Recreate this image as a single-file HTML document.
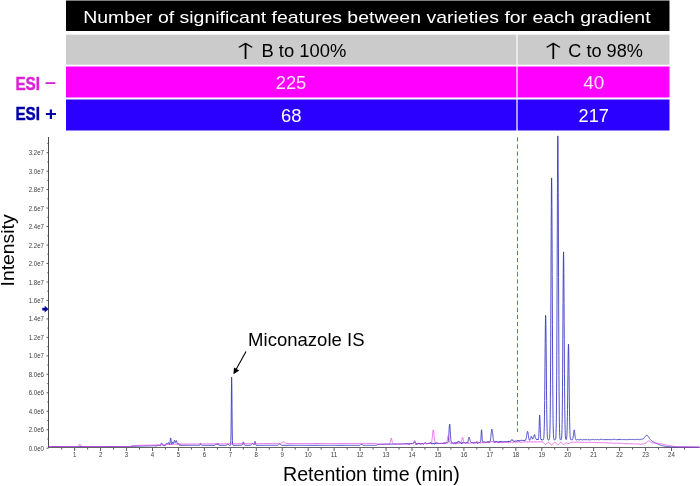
<!DOCTYPE html>
<html lang="en">
<head>
<meta charset="utf-8">
<title>Number of significant features between varieties for each gradient</title>
<style>
html,body{margin:0;padding:0;background:#fff;}
body{width:700px;height:486px;overflow:hidden;}
svg{display:block;}
text{font-family:"Liberation Sans","DejaVu Sans",sans-serif;}
</style>
</head>
<body>
<svg width="700" height="486" viewBox="0 0 700 486">
<rect x="0" y="0" width="700" height="486" fill="#ffffff"/>
<!-- table -->
<rect x="66" y="0.5" width="603.5" height="30.5" fill="#000000"/>
<rect x="66" y="34.7" width="603.5" height="30" fill="#cbcbcb"/>
<rect x="66" y="66.5" width="603.5" height="31" fill="#ff00ff"/>
<rect x="66" y="99.5" width="603.5" height="31" fill="#2c00ff"/>
<rect x="516.4" y="32" width="1.2" height="99" fill="#ffffff"/>
<text x="83.2" y="22.9" font-size="17" fill="#ffffff" textLength="567.4" lengthAdjust="spacingAndGlyphs">Number of significant features between varieties for each gradient</text>
<text transform="translate(245.9 58.8) scale(1.5 0.92)" x="-10.5" y="0" font-size="24" font-weight="200" style="font-family:'DejaVu Sans',sans-serif">↑</text>
<text x="261.5" y="56.6" font-size="18" fill="#000000" textLength="84.8" lengthAdjust="spacingAndGlyphs">B to 100%</text>
<text transform="translate(553.7 58.8) scale(1.5 0.92)" x="-10.5" y="0" font-size="24" font-weight="200" style="font-family:'DejaVu Sans',sans-serif">↑</text>
<text x="568.3" y="56.6" font-size="18" fill="#000000" textLength="74.6" lengthAdjust="spacingAndGlyphs">C to 98%</text>
<text x="275.7" y="89.2" font-size="18" fill="#ffe6ff" textLength="30.6" lengthAdjust="spacingAndGlyphs">225</text>
<text x="583.2" y="88.6" font-size="18" fill="#ffe6ff" textLength="21.1" lengthAdjust="spacingAndGlyphs">40</text>
<text x="280.9" y="122" font-size="18" fill="#ffffff" textLength="20.5" lengthAdjust="spacingAndGlyphs">68</text>
<text x="578.6" y="121.8" font-size="18" fill="#ffffff" textLength="30.3" lengthAdjust="spacingAndGlyphs">217</text>
<text x="15.4" y="89.5" font-size="17.8" font-weight="bold" fill="#dd22d6" stroke="#dd22d6" stroke-width="0.45" textLength="24.6" lengthAdjust="spacingAndGlyphs">ESI</text><text x="45.1" y="88" font-size="17.8" font-weight="bold" fill="#dd22d6" textLength="10.9" lengthAdjust="spacingAndGlyphs">–</text>
<text x="15.4" y="119.5" font-size="17.8" font-weight="bold" fill="#0000a8" stroke="#0000a8" stroke-width="0.45" textLength="24.6" lengthAdjust="spacingAndGlyphs">ESI</text><text x="44.9" y="119.8" font-size="17.8" font-weight="bold" fill="#0000a8" textLength="11.8" lengthAdjust="spacingAndGlyphs">+</text>
<!-- chart -->
<line x1="48.5" y1="137" x2="48.5" y2="448" stroke="#4a4a4a" stroke-width="1"/>
<line x1="48" y1="447.5" x2="699.5" y2="447.5" stroke="#666666" stroke-width="1"/>
<path d="M46.5 448.20H48.5M47.3 438.96H48.5M46.5 429.73H48.5M47.3 420.50H48.5M46.5 411.26H48.5M47.3 402.02H48.5M46.5 392.79H48.5M47.3 383.56H48.5M46.5 374.32H48.5M47.3 365.08H48.5M46.5 355.85H48.5M47.3 346.62H48.5M46.5 337.38H48.5M47.3 328.14H48.5M46.5 318.91H48.5M47.3 309.68H48.5M46.5 300.44H48.5M47.3 291.20H48.5M46.5 281.97H48.5M47.3 272.74H48.5M46.5 263.50H48.5M47.3 254.26H48.5M46.5 245.03H48.5M47.3 235.79H48.5M46.5 226.56H48.5M47.3 217.32H48.5M46.5 208.09H48.5M47.3 198.85H48.5M46.5 189.62H48.5M47.3 180.38H48.5M46.5 171.15H48.5M47.3 161.92H48.5M46.5 152.68H48.5M47.3 143.44H48.5" stroke="#4a4a4a" stroke-width="0.9" fill="none"/>
<path d="M61.68 448V449.6M74.65 448V451M87.62 448V449.6M100.60 448V451M113.58 448V449.6M126.55 448V451M139.53 448V449.6M152.50 448V451M165.47 448V449.6M178.45 448V451M191.43 448V449.6M204.40 448V451M217.38 448V449.6M230.35 448V451M243.32 448V449.6M256.30 448V451M269.27 448V449.6M282.25 448V451M295.23 448V449.6M308.20 448V451M321.17 448V449.6M334.15 448V451M347.12 448V449.6M360.10 448V451M373.07 448V449.6M386.05 448V451M399.02 448V449.6M412.00 448V451M424.97 448V449.6M437.95 448V451M450.92 448V449.6M463.90 448V451M476.88 448V449.6M489.85 448V451M502.82 448V449.6M515.80 448V451M528.77 448V449.6M541.75 448V451M554.73 448V449.6M567.70 448V451M580.68 448V449.6M593.65 448V451M606.62 448V449.6M619.60 448V451M632.58 448V449.6M645.55 448V451M658.52 448V449.6M671.50 448V451M684.48 448V449.6" stroke="#4a4a4a" stroke-width="0.9" fill="none"/>
<g font-family="'Liberation Sans', 'DejaVu Sans', sans-serif" font-size="7" fill="#3c3c3c"><text x="44" y="450.7" text-anchor="end" textLength="15.3" lengthAdjust="spacingAndGlyphs">0.0e0</text><text x="44" y="432.2" text-anchor="end" textLength="15.3" lengthAdjust="spacingAndGlyphs">2.0e6</text><text x="44" y="413.8" text-anchor="end" textLength="15.3" lengthAdjust="spacingAndGlyphs">4.0e6</text><text x="44" y="395.3" text-anchor="end" textLength="15.3" lengthAdjust="spacingAndGlyphs">6.0e6</text><text x="44" y="376.8" text-anchor="end" textLength="15.3" lengthAdjust="spacingAndGlyphs">8.0e6</text><text x="44" y="358.4" text-anchor="end" textLength="15.3" lengthAdjust="spacingAndGlyphs">1.0e7</text><text x="44" y="339.9" text-anchor="end" textLength="15.3" lengthAdjust="spacingAndGlyphs">1.2e7</text><text x="44" y="321.4" text-anchor="end" textLength="15.3" lengthAdjust="spacingAndGlyphs">1.4e7</text><text x="44" y="302.9" text-anchor="end" textLength="15.3" lengthAdjust="spacingAndGlyphs">1.6e7</text><text x="44" y="284.5" text-anchor="end" textLength="15.3" lengthAdjust="spacingAndGlyphs">1.8e7</text><text x="44" y="266.0" text-anchor="end" textLength="15.3" lengthAdjust="spacingAndGlyphs">2.0e7</text><text x="44" y="247.5" text-anchor="end" textLength="15.3" lengthAdjust="spacingAndGlyphs">2.2e7</text><text x="44" y="229.1" text-anchor="end" textLength="15.3" lengthAdjust="spacingAndGlyphs">2.4e7</text><text x="44" y="210.6" text-anchor="end" textLength="15.3" lengthAdjust="spacingAndGlyphs">2.6e7</text><text x="44" y="192.1" text-anchor="end" textLength="15.3" lengthAdjust="spacingAndGlyphs">2.8e7</text><text x="44" y="173.7" text-anchor="end" textLength="15.3" lengthAdjust="spacingAndGlyphs">3.0e7</text><text x="44" y="155.2" text-anchor="end" textLength="15.3" lengthAdjust="spacingAndGlyphs">3.2e7</text><text x="74.7" y="457.2" text-anchor="middle" textLength="3.4" lengthAdjust="spacingAndGlyphs">1</text><text x="100.6" y="457.2" text-anchor="middle" textLength="3.4" lengthAdjust="spacingAndGlyphs">2</text><text x="126.5" y="457.2" text-anchor="middle" textLength="3.4" lengthAdjust="spacingAndGlyphs">3</text><text x="152.5" y="457.2" text-anchor="middle" textLength="3.4" lengthAdjust="spacingAndGlyphs">4</text><text x="178.4" y="457.2" text-anchor="middle" textLength="3.4" lengthAdjust="spacingAndGlyphs">5</text><text x="204.4" y="457.2" text-anchor="middle" textLength="3.4" lengthAdjust="spacingAndGlyphs">6</text><text x="230.4" y="457.2" text-anchor="middle" textLength="3.4" lengthAdjust="spacingAndGlyphs">7</text><text x="256.3" y="457.2" text-anchor="middle" textLength="3.4" lengthAdjust="spacingAndGlyphs">8</text><text x="282.2" y="457.2" text-anchor="middle" textLength="3.4" lengthAdjust="spacingAndGlyphs">9</text><text x="308.2" y="457.2" text-anchor="middle" textLength="6.8" lengthAdjust="spacingAndGlyphs">10</text><text x="334.1" y="457.2" text-anchor="middle" textLength="6.8" lengthAdjust="spacingAndGlyphs">11</text><text x="360.1" y="457.2" text-anchor="middle" textLength="6.8" lengthAdjust="spacingAndGlyphs">12</text><text x="386.0" y="457.2" text-anchor="middle" textLength="6.8" lengthAdjust="spacingAndGlyphs">13</text><text x="412.0" y="457.2" text-anchor="middle" textLength="6.8" lengthAdjust="spacingAndGlyphs">14</text><text x="437.9" y="457.2" text-anchor="middle" textLength="6.8" lengthAdjust="spacingAndGlyphs">15</text><text x="463.9" y="457.2" text-anchor="middle" textLength="6.8" lengthAdjust="spacingAndGlyphs">16</text><text x="489.8" y="457.2" text-anchor="middle" textLength="6.8" lengthAdjust="spacingAndGlyphs">17</text><text x="515.8" y="457.2" text-anchor="middle" textLength="6.8" lengthAdjust="spacingAndGlyphs">18</text><text x="541.8" y="457.2" text-anchor="middle" textLength="6.8" lengthAdjust="spacingAndGlyphs">19</text><text x="567.7" y="457.2" text-anchor="middle" textLength="6.8" lengthAdjust="spacingAndGlyphs">20</text><text x="593.6" y="457.2" text-anchor="middle" textLength="6.8" lengthAdjust="spacingAndGlyphs">21</text><text x="619.6" y="457.2" text-anchor="middle" textLength="6.8" lengthAdjust="spacingAndGlyphs">22</text><text x="645.6" y="457.2" text-anchor="middle" textLength="6.8" lengthAdjust="spacingAndGlyphs">23</text><text x="671.5" y="457.2" text-anchor="middle" textLength="6.8" lengthAdjust="spacingAndGlyphs">24</text></g>
<line x1="517.5" y1="137.3" x2="517.5" y2="432" stroke="#5577b0" stroke-width="1" stroke-dasharray="4.3 2.8"/>
<path d="M48.70 446.50 L49.74 446.50 L50.78 446.50 L51.81 446.50 L52.85 446.50 L53.89 446.50 L54.93 446.50 L55.97 446.50 L57.00 446.50 L58.04 446.50 L59.08 446.50 L60.12 446.50 L61.16 446.50 L62.19 446.50 L63.23 446.50 L64.27 446.50 L65.31 446.50 L66.35 446.50 L67.38 446.50 L68.42 446.50 L69.46 446.50 L70.50 446.50 L71.54 446.50 L72.57 446.50 L73.61 446.50 L74.65 446.50 L75.69 446.50 L76.73 446.50 L77.76 446.50 L78.80 446.50 L79.84 446.50 L80.88 446.50 L81.92 446.50 L82.95 446.50 L83.99 446.50 L85.03 446.50 L86.07 446.50 L87.11 446.50 L88.14 446.50 L89.18 446.50 L90.22 446.50 L91.26 446.50 L92.30 446.50 L93.33 446.50 L94.37 446.50 L95.41 446.50 L96.45 446.50 L97.49 446.50 L98.52 446.50 L99.56 446.50 L100.60 446.50 L101.64 446.50 L102.68 446.50 L103.71 446.50 L104.75 446.50 L105.79 446.50 L106.83 446.50 L107.87 446.50 L108.90 446.50 L109.94 446.50 L110.98 446.50 L112.02 446.50 L113.06 446.50 L114.09 446.50 L115.13 446.50 L116.17 446.50 L117.21 446.50 L118.25 446.50 L119.28 446.50 L120.32 446.50 L121.36 446.50 L122.40 446.50 L123.44 446.50 L124.47 446.50 L125.51 446.50 L126.55 446.50 L127.59 446.50 L128.63 446.50 L129.66 446.50 L130.70 446.50 L131.74 446.50 L132.47 446.42 L133.19 446.33 L133.92 446.25 L134.96 446.19 L136.00 446.16 L137.03 446.14 L138.07 446.12 L139.11 446.10 L140.15 446.08 L141.19 446.05 L142.22 446.03 L143.26 446.01 L144.30 445.99 L145.34 445.96 L146.38 445.94 L147.41 445.92 L148.45 445.90 L149.49 445.88 L150.53 445.85 L151.57 445.83 L152.60 445.81 L153.64 445.79 L154.68 445.76 L155.20 445.91 L155.41 446.03 L155.72 446.21 L155.93 446.08 L156.03 446.18 L156.13 446.34 L156.24 446.18 L156.34 445.97 L156.44 445.70 L156.55 445.91 L156.65 445.63 L156.86 445.38 L157.07 445.70 L157.17 445.58 L157.38 445.44 L157.48 445.63 L157.69 445.51 L158.00 445.60 L158.42 445.74 L158.52 445.63 L158.73 445.38 L158.83 445.27 L158.94 445.18 L159.14 445.35 L159.25 445.12 L159.35 445.36 L159.45 445.58 L159.56 445.73 L159.77 445.50 L160.08 445.65 L160.28 445.53 L160.49 445.69 L160.60 445.45 L160.70 444.99 L160.80 444.63 L160.91 444.27 L161.01 444.09 L161.12 443.79 L161.22 443.43 L161.32 443.32 L161.53 443.20 L161.63 443.09 L161.74 442.87 L161.84 443.05 L161.95 443.36 L162.05 443.56 L162.15 443.85 L162.26 444.34 L162.36 444.56 L162.46 444.95 L162.67 445.18 L162.78 445.40 L162.98 445.58 L163.19 445.76 L163.30 445.68 L163.40 445.58 L163.50 445.46 L163.61 445.61 L163.71 445.41 L163.92 445.61 L164.02 445.70 L164.13 445.80 L164.23 445.60 L164.44 445.71 L164.54 445.56 L164.64 445.47 L164.75 445.73 L165.06 445.50 L165.27 445.38 L165.37 445.01 L165.68 444.92 L165.79 444.50 L165.89 444.39 L165.99 444.16 L166.10 443.86 L166.20 443.63 L166.31 443.39 L166.51 443.25 L166.93 443.34 L167.24 443.55 L167.55 443.63 L167.65 443.76 L167.76 443.85 L167.86 443.72 L167.97 443.56 L168.07 443.40 L168.28 443.12 L168.38 442.75 L168.49 442.65 L168.59 442.51 L168.69 442.82 L168.90 443.18 L169.00 443.47 L169.11 443.73 L169.21 444.27 L169.32 444.48 L169.42 444.90 L169.52 445.00 L169.63 444.80 L169.73 444.60 L169.83 444.03 L169.94 443.41 L170.04 442.31 L170.15 441.31 L170.25 440.47 L170.35 439.57 L170.46 438.97 L170.56 438.28 L170.67 437.90 L170.87 438.63 L170.98 439.38 L171.08 440.15 L171.18 441.10 L171.29 442.34 L171.39 443.28 L171.50 443.74 L171.60 444.09 L171.70 444.34 L171.81 444.48 L171.91 444.35 L172.01 444.25 L172.12 443.79 L172.22 443.37 L172.33 443.03 L172.43 442.74 L172.53 442.26 L172.64 441.89 L172.74 441.97 L172.84 442.11 L172.95 442.20 L173.05 442.39 L173.16 442.87 L173.26 443.23 L173.36 443.50 L173.47 443.66 L173.68 443.41 L173.78 443.12 L173.88 442.68 L173.99 442.25 L174.09 441.77 L174.19 441.38 L174.30 441.07 L174.40 440.55 L174.51 440.36 L174.61 440.20 L174.71 440.40 L174.82 440.59 L174.92 440.92 L175.02 441.44 L175.13 441.91 L175.23 442.39 L175.34 442.54 L175.44 442.76 L175.75 442.43 L175.86 442.05 L175.96 441.67 L176.06 441.23 L176.17 440.95 L176.27 440.72 L176.37 440.61 L176.48 440.83 L176.58 440.99 L176.69 441.47 L176.79 441.88 L176.89 442.09 L177.00 442.60 L177.10 442.69 L177.20 443.11 L177.31 443.39 L177.41 443.75 L177.52 444.14 L177.83 444.34 L177.93 444.24 L178.14 443.97 L178.35 443.88 L178.45 443.68 L178.55 443.81 L178.66 443.57 L178.76 443.79 L178.87 443.98 L178.97 444.29 L179.07 444.41 L179.28 444.83 L179.38 444.74 L179.49 444.88 L179.59 445.06 L179.70 445.22 L179.80 445.47 L179.90 445.03 L180.01 445.18 L180.11 445.03 L180.21 444.87 L180.42 444.75 L180.53 444.98 L180.63 445.10 L180.84 445.21 L181.05 445.29 L182.08 445.30 L183.12 445.30 L184.16 445.30 L185.20 445.30 L186.24 445.30 L187.27 445.30 L188.31 445.30 L189.35 445.30 L190.39 445.30 L191.43 445.30 L192.46 445.30 L193.50 445.30 L194.54 445.30 L195.58 445.30 L196.62 445.30 L197.65 445.30 L198.69 445.30 L199.52 445.22 L199.73 445.03 L199.83 444.85 L199.94 444.62 L200.04 444.33 L200.14 444.01 L200.25 443.70 L200.35 443.45 L200.46 443.32 L200.66 443.45 L200.77 443.70 L200.87 444.01 L200.97 444.33 L201.08 444.62 L201.18 444.85 L201.29 445.03 L201.39 445.15 L201.60 445.26 L202.64 445.30 L203.67 445.30 L204.71 445.30 L205.75 445.30 L206.79 445.30 L207.83 445.30 L208.86 445.30 L209.90 445.30 L210.94 445.30 L211.98 445.30 L213.02 445.30 L214.05 445.30 L214.88 445.19 L215.09 445.05 L215.20 444.95 L215.30 444.81 L215.40 444.66 L215.51 444.48 L215.61 444.30 L215.71 444.13 L215.82 443.98 L215.92 443.87 L216.34 443.98 L216.44 444.12 L216.54 444.29 L216.65 444.47 L216.75 444.63 L216.86 444.76 L217.06 444.85 L217.27 444.64 L217.38 444.41 L217.48 444.13 L217.58 443.83 L217.69 443.55 L217.79 443.36 L218.10 443.56 L218.21 443.85 L218.31 444.17 L218.41 444.48 L218.52 444.74 L218.62 444.95 L218.72 445.09 L218.83 445.19 L219.04 445.27 L220.07 445.30 L221.11 445.30 L222.15 445.30 L223.19 445.30 L224.23 445.30 L225.26 445.30 L226.30 445.27 L226.61 445.17 L226.82 445.00 L226.92 444.88 L227.03 444.74 L227.13 444.57 L227.24 444.39 L227.34 444.21 L227.44 444.05 L227.55 443.92 L227.65 443.83 L227.96 443.92 L228.07 444.05 L228.17 444.21 L228.27 444.39 L228.38 444.57 L228.48 444.74 L228.59 444.88 L228.69 445.00 L228.79 445.10 L229.00 445.22 L229.62 445.30 L230.45 445.17 L230.56 444.93 L230.66 444.34 L230.77 443.04 L230.87 440.49 L230.97 435.96 L231.08 428.82 L231.18 418.84 L231.28 406.66 L231.39 393.97 L231.49 383.27 L231.60 377.11 L231.80 383.27 L231.91 393.97 L232.01 406.66 L232.11 418.84 L232.22 428.82 L232.32 435.96 L232.43 440.49 L232.53 443.04 L232.63 444.34 L232.74 444.93 L232.84 445.17 L232.94 445.26 L233.98 445.30 L235.02 445.30 L236.06 445.30 L237.10 445.30 L238.13 445.30 L239.17 445.30 L240.21 445.30 L241.25 445.30 L241.98 445.18 L242.18 444.99 L242.29 444.83 L242.39 444.61 L242.49 444.33 L242.60 443.99 L242.70 443.60 L242.81 443.18 L242.91 442.76 L243.01 442.38 L243.12 442.07 L243.22 441.87 L243.53 442.07 L243.64 442.38 L243.74 442.76 L243.84 443.18 L243.95 443.60 L244.05 443.99 L244.16 444.33 L244.26 444.61 L244.36 444.83 L244.47 444.99 L244.57 445.10 L244.78 445.23 L245.82 445.30 L246.85 445.30 L247.89 445.30 L248.93 445.30 L249.97 445.29 L250.49 445.20 L250.69 445.12 L250.90 444.99 L251.01 444.90 L251.11 444.80 L251.21 444.68 L251.32 444.55 L251.42 444.40 L251.53 444.25 L251.63 444.09 L251.73 443.93 L251.84 443.77 L251.94 443.63 L252.04 443.51 L252.15 443.41 L252.36 443.30 L252.67 443.41 L252.77 443.51 L252.87 443.63 L252.98 443.77 L253.08 443.93 L253.19 444.09 L253.29 444.25 L253.39 444.40 L253.50 444.55 L253.60 444.68 L253.70 444.79 L253.81 444.87 L254.22 444.63 L254.33 444.31 L254.43 443.87 L254.54 443.31 L254.64 442.68 L254.74 442.07 L254.85 441.59 L254.95 441.33 L255.16 441.60 L255.26 442.09 L255.37 442.71 L255.47 443.35 L255.57 443.94 L255.68 444.41 L255.78 444.76 L255.88 444.99 L255.99 445.14 L256.09 445.22 L257.13 445.30 L258.17 445.30 L259.21 445.30 L260.24 445.30 L261.28 445.30 L262.32 445.30 L263.36 445.30 L264.40 445.30 L265.43 445.30 L266.47 445.30 L267.51 445.30 L268.55 445.30 L269.59 445.30 L270.62 445.30 L271.66 445.30 L272.70 445.30 L273.74 445.30 L274.78 445.30 L275.81 445.30 L276.85 445.30 L277.79 445.22 L278.10 445.10 L278.31 444.97 L278.41 444.88 L278.51 444.79 L278.62 444.68 L278.72 444.57 L278.82 444.45 L278.93 444.33 L279.03 444.21 L279.14 444.10 L279.24 444.00 L279.34 443.92 L279.55 443.81 L279.97 443.92 L280.07 444.00 L280.17 444.10 L280.28 444.21 L280.38 444.33 L280.49 444.45 L280.59 444.57 L280.69 444.68 L280.80 444.79 L280.90 444.88 L281.00 444.97 L281.21 445.10 L281.42 445.19 L281.83 445.27 L282.87 445.30 L283.91 445.30 L284.95 445.30 L285.99 445.30 L287.02 445.30 L288.06 445.30 L289.10 445.30 L290.14 445.30 L291.18 445.30 L292.21 445.30 L293.25 445.30 L294.29 445.30 L295.33 445.30 L296.37 445.30 L297.40 445.30 L298.44 445.30 L299.48 445.30 L300.52 445.30 L301.56 445.30 L302.59 445.30 L303.63 445.30 L304.67 445.30 L305.71 445.30 L306.75 445.30 L307.78 445.30 L308.82 445.30 L309.86 445.30 L310.90 445.30 L311.94 445.30 L312.97 445.30 L314.01 445.30 L315.05 445.30 L316.09 445.30 L317.13 445.30 L318.16 445.30 L319.20 445.30 L320.24 445.30 L321.28 445.30 L322.32 445.30 L323.35 445.30 L324.39 445.30 L325.43 445.30 L326.47 445.30 L327.51 445.30 L328.54 445.30 L329.58 445.30 L330.62 445.30 L331.66 445.30 L332.70 445.30 L333.73 445.30 L334.77 445.30 L335.81 445.30 L336.85 445.30 L337.89 445.30 L338.92 445.30 L339.96 445.30 L341.00 445.30 L342.04 445.30 L343.08 445.30 L344.11 445.30 L345.15 445.30 L346.19 445.30 L347.23 445.30 L348.27 445.30 L349.30 445.30 L350.34 445.30 L351.38 445.30 L352.42 445.30 L353.46 445.30 L354.49 445.30 L355.53 445.30 L356.57 445.30 L357.61 445.30 L358.65 445.30 L359.68 445.30 L360.20 445.18 L360.31 445.06 L360.41 444.94 L360.52 444.82 L360.62 444.70 L360.72 444.58 L360.83 444.46 L361.86 444.40 L362.28 444.49 L362.38 444.58 L362.49 444.67 L362.59 444.76 L362.69 444.85 L362.80 444.94 L362.90 445.03 L363.01 445.12 L363.11 445.21 L363.21 445.30 L364.25 445.30 L365.29 445.30 L366.33 445.30 L367.37 445.30 L368.40 445.30 L369.44 445.30 L370.48 445.30 L371.52 445.30 L372.56 445.30 L373.59 445.30 L374.63 445.30 L375.67 445.30 L376.40 445.17 L376.60 445.03 L376.81 444.90 L377.02 444.77 L377.23 444.63 L377.43 444.50 L377.64 444.37 L378.68 444.29 L379.72 444.27 L380.76 444.26 L381.79 444.24 L382.83 444.23 L383.87 444.21 L384.91 444.20 L385.95 444.18 L386.98 444.17 L388.02 444.16 L389.06 444.14 L390.10 444.13 L391.14 444.11 L392.17 444.10 L393.21 444.08 L394.25 444.07 L395.29 444.05 L396.33 444.04 L397.36 444.02 L398.40 444.01 L399.44 443.99 L400.48 443.98 L401.52 443.96 L402.55 443.95 L403.59 443.93 L404.63 443.91 L405.67 443.90 L406.71 443.88 L406.91 443.10 L407.12 443.43 L407.23 443.69 L407.33 444.10 L407.43 443.95 L407.54 444.04 L407.74 443.78 L407.85 443.61 L407.95 443.41 L408.06 443.69 L408.16 443.60 L408.26 443.87 L408.37 443.98 L408.57 444.14 L408.68 443.94 L408.99 443.84 L409.09 444.48 L409.20 444.24 L409.30 444.09 L409.40 444.32 L409.51 444.10 L409.72 443.26 L409.82 443.40 L410.34 443.69 L410.55 443.79 L410.65 443.52 L410.75 443.39 L410.86 443.16 L411.07 443.05 L411.27 443.23 L411.38 443.49 L411.48 443.87 L411.79 443.76 L412.10 443.58 L412.21 443.38 L412.42 443.74 L412.52 443.64 L412.62 443.73 L412.93 443.87 L413.04 443.66 L413.25 443.28 L413.56 442.91 L413.66 442.78 L413.76 442.67 L413.97 442.28 L414.28 442.11 L414.49 442.31 L414.70 442.40 L415.01 442.18 L415.11 441.79 L415.22 442.21 L415.53 442.63 L415.63 443.16 L415.74 443.66 L415.84 443.80 L415.94 444.14 L416.05 444.82 L416.15 444.65 L416.26 444.40 L416.36 444.26 L416.46 444.15 L416.57 443.86 L416.67 443.43 L416.77 443.30 L416.88 443.52 L416.98 443.71 L417.09 443.85 L417.19 444.07 L417.29 443.97 L417.40 444.31 L417.50 443.86 L417.61 443.74 L417.71 443.54 L417.81 443.70 L418.02 443.40 L418.12 444.02 L418.23 443.91 L418.44 443.48 L418.54 442.94 L418.64 443.29 L418.75 442.88 L418.85 443.13 L418.95 443.03 L419.06 443.27 L419.16 444.03 L419.47 443.86 L419.58 443.95 L419.68 443.66 L419.79 443.43 L419.99 443.24 L420.10 443.12 L420.20 443.39 L420.30 443.59 L420.41 443.85 L420.62 444.16 L420.72 444.37 L420.93 444.55 L421.03 444.27 L421.13 443.90 L421.24 443.60 L421.45 443.15 L421.55 443.03 L421.76 443.45 L421.86 443.73 L422.07 443.97 L422.28 443.68 L422.38 443.60 L422.48 443.51 L422.59 443.62 L422.69 443.50 L422.80 443.33 L422.90 443.77 L423.00 443.89 L423.11 444.06 L423.21 444.17 L423.42 444.48 L423.52 444.22 L423.63 443.94 L423.73 443.81 L423.83 443.60 L423.94 443.72 L424.04 443.52 L424.46 443.20 L424.56 443.11 L424.87 443.24 L424.97 443.06 L425.18 442.77 L425.29 442.57 L425.49 442.42 L425.70 442.68 L425.81 443.01 L425.91 443.22 L426.01 443.13 L426.32 443.32 L426.43 443.44 L426.64 443.57 L426.74 443.83 L426.84 443.96 L426.95 443.87 L427.05 443.76 L427.15 443.93 L427.26 444.05 L427.36 443.77 L427.47 443.64 L427.57 443.43 L427.67 443.56 L427.88 443.28 L427.99 443.53 L428.09 443.71 L428.19 443.90 L428.30 443.78 L428.50 443.63 L428.61 443.52 L428.71 443.17 L428.82 443.00 L428.92 443.22 L429.13 443.59 L429.23 443.46 L429.33 443.77 L429.44 443.61 L429.54 443.30 L429.75 443.21 L429.85 443.12 L429.96 442.72 L430.06 442.82 L430.17 442.73 L430.27 442.59 L430.37 442.70 L430.48 442.59 L430.58 443.05 L430.68 442.93 L430.79 443.42 L430.89 443.70 L431.10 443.86 L431.20 443.77 L431.31 444.00 L431.41 443.54 L431.51 443.26 L431.72 443.48 L431.83 443.74 L431.93 443.90 L432.03 443.98 L432.14 444.16 L432.24 444.02 L432.34 443.82 L432.45 443.62 L432.55 443.32 L432.66 443.54 L432.86 443.21 L432.97 443.41 L433.07 443.17 L433.18 443.54 L433.28 443.31 L433.38 443.20 L433.49 443.65 L433.59 443.49 L433.69 443.66 L433.90 443.53 L434.11 443.45 L434.21 443.93 L434.32 444.20 L434.42 444.00 L434.84 443.72 L434.94 443.33 L435.04 443.59 L435.15 443.96 L435.35 443.73 L435.46 443.54 L435.56 443.70 L435.67 443.30 L435.77 442.87 L435.98 442.98 L436.08 443.37 L436.19 443.09 L436.29 443.24 L436.39 443.15 L436.60 442.94 L436.70 442.68 L436.81 443.04 L436.91 442.91 L437.02 443.13 L437.12 443.02 L437.22 443.32 L437.53 443.20 L437.74 443.31 L437.85 443.18 L437.95 443.34 L438.16 443.60 L438.26 443.32 L438.37 443.47 L438.57 443.28 L438.78 443.43 L438.88 443.75 L438.99 443.36 L439.09 443.64 L439.20 443.89 L439.30 443.68 L439.40 443.53 L439.61 443.67 L439.71 443.54 L439.82 443.35 L439.92 443.58 L440.03 443.85 L440.13 443.58 L440.23 443.80 L440.44 443.65 L440.54 443.34 L440.65 443.18 L440.96 443.02 L441.06 443.23 L441.27 442.88 L441.38 443.04 L441.58 443.29 L441.79 443.56 L441.89 443.95 L442.10 443.68 L442.31 443.57 L442.41 443.10 L442.62 443.32 L442.72 443.17 L442.83 443.71 L442.93 443.58 L443.04 443.86 L443.14 443.75 L443.24 443.52 L443.45 443.26 L443.66 443.01 L443.76 442.87 L443.97 442.76 L444.07 442.41 L444.18 442.56 L444.28 443.20 L444.39 443.30 L444.49 443.76 L444.80 443.52 L444.90 443.19 L445.11 443.33 L445.22 443.07 L445.42 443.28 L445.63 443.12 L445.74 442.58 L445.84 442.83 L446.05 442.68 L446.25 442.94 L446.46 442.70 L446.67 442.91 L446.98 442.80 L447.08 443.03 L447.29 443.25 L447.50 443.02 L447.81 442.83 L447.91 442.54 L448.02 442.35 L448.12 442.08 L448.23 441.67 L448.33 440.82 L448.43 440.22 L448.54 438.88 L448.64 437.53 L448.75 435.66 L448.85 434.12 L448.95 432.29 L449.06 430.51 L449.16 428.84 L449.26 427.03 L449.37 425.93 L449.47 424.71 L449.58 424.37 L449.68 423.97 L449.78 424.18 L449.89 425.32 L449.99 426.69 L450.09 428.22 L450.20 429.94 L450.30 431.80 L450.41 433.84 L450.51 435.21 L450.61 436.81 L450.72 438.30 L450.82 439.38 L450.92 440.18 L451.03 440.72 L451.13 441.24 L451.24 441.47 L451.34 441.76 L451.44 441.66 L451.55 442.03 L451.65 442.27 L451.76 442.61 L451.86 442.69 L452.07 443.20 L452.17 443.04 L452.27 443.24 L452.38 442.97 L452.59 442.83 L452.69 442.68 L452.79 442.89 L453.10 443.03 L453.21 443.22 L453.31 443.37 L453.62 443.62 L453.83 443.51 L453.94 443.43 L454.04 443.73 L454.14 443.48 L454.25 443.15 L454.35 443.06 L454.45 443.15 L454.56 442.94 L454.66 442.66 L454.77 442.46 L454.87 442.81 L454.97 442.62 L455.18 442.91 L455.28 443.26 L455.39 443.68 L455.49 443.78 L455.60 443.95 L455.70 444.12 L455.80 443.65 L455.91 443.19 L456.12 442.98 L456.22 442.79 L456.32 442.37 L456.43 442.79 L456.53 443.12 L456.63 442.94 L456.84 443.07 L456.95 443.24 L457.05 443.03 L457.15 442.90 L457.26 442.54 L457.36 442.71 L457.57 442.49 L457.67 442.34 L457.78 441.80 L457.88 442.07 L457.98 441.69 L458.09 441.55 L458.19 441.43 L458.29 441.55 L458.40 441.79 L458.61 441.96 L458.81 441.82 L458.92 442.11 L459.13 441.78 L459.23 441.60 L459.33 441.80 L459.44 441.99 L459.85 442.52 L459.96 442.17 L460.06 442.27 L460.16 441.87 L460.27 442.16 L460.37 442.30 L460.47 442.17 L460.58 442.54 L460.79 442.70 L460.89 442.61 L460.99 442.78 L461.20 442.93 L461.31 443.04 L461.41 443.64 L461.51 443.45 L462.03 443.34 L462.14 443.77 L462.24 443.56 L462.34 443.43 L462.45 443.19 L462.55 442.97 L462.65 442.42 L462.76 442.15 L462.86 442.04 L462.97 442.12 L463.07 442.27 L463.17 442.45 L463.28 442.67 L463.48 442.99 L463.59 442.90 L463.69 443.10 L463.80 442.91 L463.90 443.00 L464.11 442.91 L464.32 442.70 L464.63 442.57 L464.83 442.78 L465.04 442.99 L465.56 443.21 L465.66 443.11 L465.77 443.01 L465.87 442.82 L465.98 442.90 L466.08 442.42 L466.18 442.22 L466.29 442.14 L466.50 442.53 L466.70 442.62 L466.91 442.72 L467.01 443.04 L467.12 442.77 L467.33 443.09 L467.53 442.88 L467.64 442.60 L467.74 442.85 L467.84 442.55 L467.95 441.93 L468.05 441.24 L468.16 440.92 L468.26 440.43 L468.36 439.55 L468.47 438.95 L468.57 438.47 L468.78 437.75 L468.88 437.31 L468.99 437.02 L469.19 437.24 L469.30 437.33 L469.40 437.80 L469.51 438.04 L469.61 438.58 L469.71 438.89 L469.82 439.54 L469.92 439.90 L470.02 440.18 L470.13 440.78 L470.23 441.18 L470.34 441.38 L470.54 441.63 L470.65 441.93 L471.06 442.37 L471.17 442.19 L471.27 442.39 L471.37 442.55 L471.48 442.74 L471.58 442.61 L471.69 442.48 L471.79 442.58 L471.89 442.82 L472.00 442.67 L472.10 442.49 L472.20 442.99 L472.31 442.76 L472.41 442.91 L472.52 442.72 L472.72 442.62 L472.83 442.43 L472.93 442.64 L473.14 442.38 L473.24 442.74 L473.35 443.10 L473.55 443.27 L473.86 442.97 L474.07 443.07 L474.18 442.72 L474.28 442.57 L474.49 442.68 L474.70 442.29 L474.90 442.46 L475.01 442.55 L475.32 442.70 L475.53 443.10 L475.63 442.94 L475.94 442.86 L476.04 442.54 L476.15 442.25 L476.25 442.50 L476.77 442.66 L476.88 442.37 L476.98 442.25 L477.08 442.56 L477.19 442.79 L477.29 442.96 L477.39 442.76 L477.50 443.02 L477.60 443.43 L477.71 443.16 L477.81 443.05 L478.02 443.42 L478.12 443.30 L478.22 443.06 L478.43 442.88 L478.64 442.66 L478.74 442.52 L478.85 442.32 L479.26 442.42 L479.37 442.59 L479.47 442.95 L479.57 442.69 L479.68 442.97 L479.78 442.75 L479.89 442.65 L479.99 442.49 L480.09 442.35 L480.20 442.44 L480.30 442.24 L480.40 442.01 L480.51 441.86 L480.61 441.26 L480.72 440.80 L480.82 439.85 L480.92 438.36 L481.03 436.93 L481.13 434.96 L481.23 433.23 L481.34 431.24 L481.44 430.14 L481.55 429.76 L481.65 430.34 L481.75 431.26 L481.86 432.90 L481.96 434.72 L482.06 436.62 L482.17 438.35 L482.27 439.58 L482.38 440.49 L482.48 441.23 L482.58 441.74 L482.69 442.08 L482.79 442.52 L483.10 442.65 L483.21 442.53 L483.31 442.39 L483.41 441.94 L483.52 442.02 L483.73 441.73 L483.93 441.92 L484.04 442.04 L484.14 441.92 L484.24 442.15 L484.45 442.04 L484.66 441.95 L484.87 441.86 L485.08 441.78 L485.28 442.08 L485.49 442.40 L485.59 442.57 L485.70 442.75 L485.91 442.31 L486.11 442.00 L486.22 442.10 L486.32 441.79 L486.53 442.17 L486.74 442.33 L486.84 442.23 L486.94 442.50 L487.05 442.38 L487.15 442.03 L487.25 441.86 L487.36 441.73 L487.46 442.09 L487.67 442.32 L487.77 442.42 L487.88 442.04 L488.09 441.76 L488.19 442.10 L488.29 441.67 L488.40 441.84 L488.50 442.21 L488.71 442.36 L488.81 441.93 L488.92 442.19 L489.33 442.03 L489.43 442.21 L489.54 441.93 L489.64 441.65 L489.75 441.85 L490.06 441.65 L490.16 441.36 L490.37 440.81 L490.47 440.06 L490.58 439.17 L490.68 438.17 L490.78 437.49 L490.89 436.40 L490.99 435.31 L491.10 434.21 L491.20 433.36 L491.30 432.64 L491.41 431.54 L491.51 430.45 L491.61 429.88 L491.72 429.52 L491.82 429.33 L491.93 429.15 L492.03 429.68 L492.13 430.00 L492.24 430.48 L492.34 431.06 L492.44 431.72 L492.55 432.67 L492.65 433.19 L492.76 434.20 L492.86 434.98 L492.96 436.00 L493.07 436.73 L493.17 437.48 L493.28 438.47 L493.38 439.23 L493.48 439.80 L493.59 440.12 L493.69 440.65 L493.79 441.22 L493.90 441.37 L494.11 442.30 L494.21 442.61 L494.31 442.71 L494.42 442.38 L494.52 442.16 L494.62 442.29 L494.73 441.84 L494.83 441.61 L495.04 441.74 L495.25 441.97 L495.35 441.65 L495.46 441.89 L495.56 441.74 L495.66 441.42 L495.77 441.52 L495.87 441.43 L496.08 441.23 L496.18 441.51 L496.29 441.68 L496.39 441.92 L496.49 441.51 L496.60 441.72 L496.80 441.53 L497.01 441.66 L497.22 441.83 L497.43 441.74 L497.53 441.93 L497.63 441.83 L497.74 442.09 L497.84 441.83 L497.95 442.13 L498.05 442.29 L498.15 442.06 L498.26 442.25 L498.36 442.38 L498.57 442.00 L498.67 442.12 L498.78 442.20 L498.88 441.86 L498.98 441.67 L499.09 441.45 L499.19 441.93 L499.30 441.83 L499.40 442.05 L499.61 442.28 L499.71 442.04 L499.81 441.63 L499.92 441.15 L500.02 441.04 L500.13 441.23 L500.23 441.09 L500.33 441.32 L500.54 441.77 L500.85 441.66 L500.96 441.99 L501.06 442.10 L501.16 442.27 L501.27 442.10 L501.37 441.82 L501.58 441.56 L501.68 441.33 L501.79 441.07 L501.89 441.23 L502.10 441.41 L502.20 441.50 L502.31 441.89 L502.41 442.02 L502.62 441.86 L502.82 442.13 L502.93 441.82 L503.03 441.92 L503.14 442.19 L503.45 442.02 L503.66 441.77 L503.76 441.49 L503.86 441.61 L504.17 441.50 L504.28 441.98 L504.49 442.11 L504.69 441.95 L504.90 441.71 L505.00 441.44 L505.11 441.65 L505.21 441.51 L505.42 441.60 L505.63 442.02 L505.73 441.73 L505.84 442.03 L505.94 442.22 L506.25 442.00 L506.46 441.78 L506.56 441.59 L506.67 441.47 L507.08 441.25 L507.18 441.56 L507.39 441.73 L507.50 441.83 L507.60 441.70 L507.70 441.82 L507.81 441.65 L507.91 441.83 L508.01 441.47 L508.12 441.20 L508.22 441.48 L508.33 441.31 L508.43 441.08 L508.64 441.22 L508.74 441.56 L508.85 441.09 L508.95 441.37 L509.05 441.65 L509.16 441.48 L509.36 441.39 L509.47 441.52 L509.57 441.72 L509.78 441.55 L510.09 441.75 L510.19 441.27 L510.30 441.14 L510.40 441.24 L510.51 441.10 L510.61 440.89 L510.71 440.71 L510.92 440.52 L511.13 440.35 L511.23 440.51 L511.34 440.41 L511.54 440.02 L511.86 439.72 L511.96 439.44 L512.06 439.33 L512.17 439.79 L512.37 439.90 L512.48 440.05 L512.58 440.24 L512.69 440.55 L512.79 440.39 L513.00 440.68 L513.21 441.08 L513.31 440.96 L513.41 441.07 L513.52 441.32 L513.62 441.19 L513.72 441.28 L513.83 441.18 L513.93 441.03 L514.04 441.17 L514.24 440.83 L514.35 440.92 L514.45 441.05 L514.55 441.62 L514.97 441.86 L515.07 441.70 L515.18 441.47 L515.38 441.20 L515.59 440.94 L515.70 440.74 L516.01 440.89 L516.11 441.09 L516.22 440.93 L516.32 441.03 L516.53 441.22 L516.63 441.33 L516.73 441.13 L516.94 441.23 L517.05 441.34 L517.15 441.19 L517.25 440.72 L517.36 440.85 L517.46 440.56 L517.56 440.74 L517.67 440.52 L517.77 440.62 L517.88 440.48 L518.08 440.64 L518.19 440.43 L518.29 440.57 L518.40 440.30 L518.50 440.89 L518.71 441.17 L518.91 440.96 L519.02 441.29 L519.12 440.69 L519.23 440.82 L519.43 440.97 L519.64 440.76 L519.74 441.09 L519.85 440.79 L520.06 440.70 L520.16 440.44 L520.26 440.36 L520.47 440.45 L520.89 440.58 L521.09 440.75 L521.20 440.51 L521.30 440.40 L521.51 440.22 L521.61 440.41 L521.72 440.20 L521.92 440.11 L522.03 440.20 L522.13 440.44 L522.34 440.66 L522.65 440.36 L522.75 440.20 L522.86 439.98 L523.07 440.13 L523.17 440.00 L523.27 440.25 L523.38 440.37 L523.79 440.60 L523.90 440.46 L524.10 440.37 L524.21 440.23 L524.31 440.67 L524.42 440.46 L524.52 440.82 L524.73 440.73 L524.83 440.95 L524.93 440.36 L525.14 440.08 L525.25 439.87 L525.35 440.16 L525.45 439.86 L525.56 440.02 L525.66 439.81 L525.76 439.65 L525.97 439.27 L526.08 438.91 L526.18 438.28 L526.28 438.05 L526.39 437.43 L526.49 436.57 L526.60 435.66 L526.70 434.97 L526.80 434.46 L526.91 433.67 L527.01 433.10 L527.11 432.88 L527.22 432.23 L527.32 431.93 L527.43 431.56 L527.53 431.32 L527.84 431.90 L527.94 432.23 L528.05 433.01 L528.15 433.92 L528.26 434.40 L528.36 435.40 L528.46 436.11 L528.57 437.09 L528.67 437.77 L528.77 438.12 L528.88 438.79 L528.98 438.99 L529.09 439.50 L529.19 439.71 L529.29 439.95 L529.40 440.10 L529.50 440.30 L529.61 440.42 L529.71 440.31 L529.81 440.03 L529.92 439.59 L530.02 439.72 L530.12 439.26 L530.23 439.13 L530.44 438.83 L530.54 438.65 L530.64 438.25 L530.75 437.91 L530.85 437.66 L530.95 436.91 L531.06 436.64 L531.16 436.55 L531.27 436.25 L531.37 436.60 L531.58 437.03 L531.68 437.28 L531.89 437.68 L531.99 437.47 L532.10 437.65 L532.20 437.85 L532.30 438.38 L532.41 438.66 L532.62 439.20 L532.72 439.02 L532.93 438.76 L533.03 438.37 L533.24 438.01 L533.45 437.68 L533.55 437.10 L533.76 436.62 L533.86 436.11 L533.97 435.80 L534.07 435.20 L534.17 435.34 L534.28 435.13 L534.38 434.84 L534.59 434.53 L534.69 434.76 L534.80 434.84 L534.90 435.20 L535.00 436.03 L535.11 436.47 L535.21 437.12 L535.31 437.53 L535.42 437.86 L535.52 438.06 L535.63 438.32 L535.73 438.46 L535.83 438.55 L535.94 438.68 L536.04 438.96 L536.14 439.19 L536.46 439.31 L536.56 439.48 L536.77 439.34 L536.98 439.79 L537.08 439.91 L537.18 439.60 L537.29 439.35 L537.39 439.66 L537.49 439.54 L537.60 439.25 L537.70 439.02 L537.81 439.34 L537.91 439.56 L538.01 439.11 L538.22 439.26 L538.32 439.45 L538.43 439.11 L538.53 438.34 L538.64 437.82 L538.74 436.43 L538.84 434.74 L538.95 432.40 L539.05 429.41 L539.16 426.43 L539.26 423.01 L539.36 419.79 L539.47 417.26 L539.57 415.45 L539.67 415.09 L539.78 415.79 L539.88 417.53 L539.99 420.30 L540.09 423.25 L540.19 426.47 L540.30 429.82 L540.40 432.36 L540.50 434.54 L540.61 436.60 L540.71 437.77 L540.82 438.63 L540.92 439.24 L541.02 439.72 L541.13 439.82 L541.23 439.59 L541.33 439.69 L541.44 439.86 L541.54 439.44 L541.75 439.95 L542.79 439.94 L543.20 439.84 L543.31 439.76 L543.41 439.61 L543.51 439.37 L543.62 438.99 L543.72 438.38 L543.83 437.47 L543.93 436.11 L544.03 434.17 L544.14 431.47 L544.24 427.82 L544.35 423.03 L544.45 416.94 L544.55 409.46 L544.66 400.57 L544.76 390.37 L544.86 379.10 L544.97 367.16 L545.07 355.07 L545.18 343.48 L545.28 333.08 L545.38 324.55 L545.49 318.49 L545.59 315.34 L545.80 318.49 L545.90 324.55 L546.01 333.08 L546.11 343.48 L546.21 355.07 L546.32 367.15 L546.42 379.09 L546.52 390.36 L546.63 400.56 L546.73 409.45 L546.84 416.93 L546.94 423.02 L547.04 427.80 L547.15 431.46 L547.25 434.16 L547.36 436.10 L547.46 437.45 L547.56 438.37 L547.67 438.97 L547.77 439.35 L547.87 439.59 L547.98 439.74 L548.08 439.82 L548.39 439.91 L549.12 439.76 L549.22 439.62 L549.33 439.39 L549.43 439.00 L549.53 438.36 L549.64 437.34 L549.74 435.78 L549.85 433.44 L549.95 430.03 L550.05 425.21 L550.16 418.60 L550.26 409.80 L550.37 398.44 L550.47 384.24 L550.57 367.07 L550.68 347.02 L550.78 324.43 L550.88 299.99 L550.99 274.65 L551.09 249.66 L551.20 226.43 L551.30 206.42 L551.40 190.99 L551.51 181.25 L551.61 177.91 L551.71 181.25 L551.82 190.99 L551.92 206.42 L552.03 226.43 L552.13 249.66 L552.23 274.65 L552.34 299.98 L552.44 324.42 L552.55 347.01 L552.65 367.06 L552.75 384.23 L552.86 398.43 L552.96 409.79 L553.06 418.59 L553.17 425.20 L553.27 430.02 L553.38 433.42 L553.48 435.76 L553.58 437.33 L553.69 438.34 L553.79 438.98 L553.89 439.37 L554.00 439.60 L554.10 439.74 L554.31 439.86 L555.35 439.71 L555.45 439.55 L555.56 439.28 L555.66 438.82 L555.76 438.08 L555.87 436.90 L555.97 435.09 L556.07 432.37 L556.18 428.42 L556.28 422.83 L556.39 415.16 L556.49 404.95 L556.59 391.77 L556.70 375.29 L556.80 355.37 L556.90 332.10 L557.01 305.89 L557.11 277.53 L557.22 248.13 L557.32 219.14 L557.42 192.19 L557.53 168.97 L557.63 151.06 L557.74 139.75 L557.84 135.89 L557.94 139.75 L558.05 151.06 L558.15 168.96 L558.25 192.18 L558.36 219.14 L558.46 248.13 L558.57 277.52 L558.67 305.88 L558.77 332.09 L558.88 355.36 L558.98 375.28 L559.08 391.76 L559.19 404.93 L559.29 415.15 L559.40 422.82 L559.50 428.40 L559.60 432.36 L559.71 435.07 L559.81 436.89 L559.91 438.06 L560.02 438.80 L560.12 439.26 L560.23 439.53 L560.33 439.68 L560.43 439.77 L561.16 439.66 L561.26 439.49 L561.37 439.21 L561.47 438.75 L561.58 438.02 L561.68 436.90 L561.78 435.22 L561.89 432.77 L561.99 429.32 L562.09 424.57 L562.20 418.26 L562.30 410.11 L562.41 399.92 L562.51 387.60 L562.61 373.20 L562.72 357.00 L562.82 339.46 L562.93 321.28 L563.03 303.35 L563.13 286.68 L563.24 272.32 L563.34 261.25 L563.44 254.25 L563.55 251.86 L563.65 254.25 L563.76 261.24 L563.86 272.32 L563.96 286.68 L564.07 303.34 L564.17 321.27 L564.27 339.45 L564.38 356.99 L564.48 373.20 L564.59 387.59 L564.69 399.91 L564.79 410.09 L564.90 418.24 L565.00 424.56 L565.11 429.30 L565.21 432.76 L565.31 435.20 L565.42 436.88 L565.52 438.00 L565.62 438.72 L565.73 439.18 L565.83 439.45 L565.94 439.59 L566.35 439.39 L566.45 439.10 L566.56 438.64 L566.66 437.94 L566.77 436.90 L566.87 435.41 L566.97 433.34 L567.08 430.53 L567.18 426.85 L567.28 422.18 L567.39 416.44 L567.49 409.61 L567.60 401.77 L567.70 393.12 L567.80 383.94 L567.91 374.66 L568.01 365.76 L568.12 357.77 L568.22 351.22 L568.32 346.57 L568.43 344.15 L568.63 346.57 L568.74 351.22 L568.84 357.77 L568.95 365.76 L569.05 374.66 L569.15 383.94 L569.26 393.11 L569.36 401.76 L569.46 409.60 L569.57 416.43 L569.67 422.17 L569.78 426.84 L569.88 430.52 L569.98 433.33 L570.09 435.40 L570.19 436.89 L570.30 437.93 L570.40 438.63 L570.50 439.09 L570.61 439.39 L570.71 439.57 L570.81 439.68 L571.02 439.79 L572.06 439.80 L572.37 439.68 L572.47 439.60 L572.58 439.47 L572.68 439.28 L572.79 439.03 L572.89 438.68 L572.99 438.23 L573.10 437.66 L573.20 436.97 L573.31 436.15 L573.41 435.24 L573.51 434.26 L573.62 433.25 L573.72 432.27 L573.82 431.38 L573.93 430.65 L574.03 430.13 L574.14 429.85 L574.34 430.12 L574.45 430.65 L574.55 431.38 L574.65 432.27 L574.76 433.24 L574.86 434.25 L574.97 435.23 L575.07 436.15 L575.17 436.96 L575.28 437.65 L575.38 438.22 L575.49 438.67 L575.59 438.85 L575.69 439.22 L575.80 439.48 L575.90 439.63 L576.11 439.90 L576.21 439.99 L577.15 439.81 L577.56 439.68 L578.39 439.81 L579.12 439.67 L579.33 439.75 L579.43 439.84 L579.95 439.75 L580.16 439.56 L580.26 439.39 L580.57 439.52 L580.68 439.43 L580.78 439.64 L581.09 439.73 L581.40 439.62 L581.51 439.73 L581.61 439.65 L581.82 439.88 L582.13 440.02 L582.34 440.12 L582.44 440.02 L582.85 439.86 L582.96 439.73 L583.06 439.65 L583.17 439.75 L583.27 439.54 L583.37 439.63 L583.58 439.73 L583.69 439.83 L583.79 439.68 L583.89 439.84 L584.31 439.70 L584.62 439.60 L584.72 439.69 L585.03 439.55 L585.66 439.68 L585.76 439.80 L586.28 439.71 L586.38 439.55 L586.80 439.71 L587.11 439.80 L587.53 440.04 L587.73 439.83 L587.84 439.71 L587.94 439.55 L588.15 439.35 L588.36 439.51 L588.46 439.63 L588.56 439.78 L589.39 439.88 L589.71 439.77 L590.02 439.67 L590.43 439.79 L590.95 439.71 L591.47 439.60 L591.78 439.52 L592.20 439.42 L592.51 439.31 L592.72 439.59 L593.34 439.40 L593.55 439.57 L593.86 439.73 L594.38 439.82 L594.69 439.73 L595.00 439.64 L595.31 439.54 L595.52 439.41 L595.73 439.51 L596.25 439.63 L596.45 439.83 L596.56 439.71 L597.08 439.56 L597.18 439.67 L597.39 439.57 L597.59 439.43 L598.32 439.66 L598.42 439.56 L598.53 439.65 L598.84 439.56 L599.15 439.72 L599.26 439.81 L599.36 439.69 L599.57 439.79 L599.67 439.70 L599.77 439.50 L600.60 439.39 L600.81 439.25 L601.02 439.37 L601.12 439.29 L601.23 439.44 L601.44 439.53 L601.85 439.29 L602.37 439.40 L602.47 439.49 L602.58 439.40 L602.68 439.49 L602.78 439.36 L603.10 439.50 L603.20 439.64 L603.30 439.53 L603.51 439.69 L603.72 439.50 L603.82 439.58 L603.93 439.72 L604.45 439.56 L605.07 439.71 L605.17 439.62 L606.21 439.61 L607.04 439.52 L607.14 439.43 L607.77 439.57 L607.97 439.44 L608.60 439.56 L608.70 439.68 L608.91 439.57 L609.12 439.68 L609.32 439.50 L609.53 439.64 L609.74 439.55 L610.05 439.72 L610.15 439.61 L610.26 439.45 L610.88 439.56 L610.98 439.79 L611.19 439.95 L611.61 439.69 L611.82 439.59 L612.13 439.46 L612.23 439.55 L612.44 439.45 L612.96 439.25 L613.06 439.33 L613.79 439.41 L613.89 439.57 L614.10 439.72 L614.31 439.52 L614.51 439.33 L614.72 439.22 L614.93 439.32 L615.34 439.44 L615.45 439.58 L615.66 439.48 L615.86 439.39 L616.38 439.50 L616.59 439.61 L616.90 439.72 L617.01 439.64 L617.11 439.54 L617.73 439.67 L617.94 439.50 L618.98 439.60 L620.02 439.48 L620.22 439.38 L620.95 439.29 L621.26 439.38 L621.47 439.56 L621.78 439.70 L622.09 439.53 L622.71 439.63 L622.82 439.49 L622.92 439.40 L623.23 439.51 L623.34 439.43 L623.44 439.54 L623.86 439.44 L624.48 439.58 L624.58 439.50 L625.10 439.41 L625.21 439.50 L625.72 439.60 L625.83 439.69 L626.35 439.84 L626.66 439.68 L626.87 439.46 L627.49 439.55 L627.59 439.37 L627.80 439.49 L627.90 439.66 L628.22 439.80 L628.42 439.70 L628.53 439.47 L629.36 439.35 L630.40 439.55 L630.50 439.38 L630.71 439.28 L630.81 439.51 L630.91 439.37 L631.12 439.50 L631.74 439.37 L631.85 439.26 L631.95 439.40 L632.47 439.49 L632.58 439.38 L632.78 439.48 L633.09 439.62 L633.41 439.46 L633.61 439.63 L633.72 439.50 L634.65 439.59 L635.27 439.51 L635.48 439.42 L635.69 439.54 L635.90 439.40 L636.00 439.53 L636.21 439.45 L636.52 439.64 L636.73 439.52 L637.04 439.41 L637.14 439.33 L637.25 439.22 L637.45 439.33 L637.87 439.52 L637.97 439.62 L638.08 439.75 L638.28 439.67 L638.60 439.59 L638.70 439.37 L639.32 439.54 L639.43 439.70 L639.84 439.62 L640.05 439.50 L640.36 439.35 L640.67 439.48 L641.19 439.39 L641.61 439.31 L641.71 439.45 L641.81 439.36 L641.92 439.26 L642.02 439.36 L642.33 439.18 L642.64 439.02 L642.75 438.90 L643.06 439.06 L643.16 438.90 L643.37 438.79 L643.68 438.38 L643.89 438.24 L644.10 438.00 L644.20 437.79 L644.41 437.67 L644.62 437.38 L644.72 437.25 L644.82 437.10 L644.93 437.01 L645.03 436.82 L645.13 436.68 L645.34 436.52 L645.45 436.37 L645.55 436.09 L645.65 435.96 L645.76 435.85 L645.86 435.74 L645.97 435.64 L646.07 435.55 L646.28 435.41 L646.48 435.31 L647.31 435.46 L647.52 435.63 L647.63 435.73 L647.73 435.84 L647.83 435.96 L647.94 436.09 L648.04 436.23 L648.15 436.37 L648.25 436.52 L648.35 436.68 L648.46 436.84 L648.56 437.00 L648.66 437.17 L648.77 437.33 L648.87 437.50 L648.98 437.67 L649.08 437.83 L649.18 437.99 L649.29 438.15 L649.39 438.31 L649.49 438.46 L649.60 438.61 L649.70 438.75 L649.81 438.89 L649.91 439.02 L650.01 439.14 L650.12 439.26 L650.22 439.37 L650.32 439.48 L650.43 439.58 L650.53 439.68 L650.64 439.77 L650.74 439.85 L650.84 439.97 L650.95 440.09 L651.05 440.20 L651.16 440.31 L651.26 440.41 L651.36 440.51 L651.47 440.60 L651.57 440.70 L651.67 440.78 L651.78 440.87 L651.88 440.95 L652.09 441.10 L652.30 441.24 L652.50 441.38 L652.71 441.51 L652.92 441.64 L653.13 441.76 L653.34 441.88 L653.54 442.00 L653.75 442.12 L653.96 442.23 L654.17 442.34 L654.37 442.46 L654.58 442.57 L654.79 442.67 L655.00 442.77 L655.20 442.86 L655.41 442.96 L655.62 443.06 L655.83 443.15 L656.03 443.25 L656.24 443.34 L656.45 443.44 L656.66 443.54 L656.86 443.63 L657.07 443.73 L657.28 443.82 L657.49 443.92 L657.69 444.02 L657.90 444.11 L658.11 444.21 L658.32 444.30 L658.52 444.40 L658.73 444.50 L658.94 444.59 L659.15 444.69 L659.36 444.78 L659.56 444.88 L659.77 444.98 L660.08 445.06 L660.50 445.17 L660.91 445.27 L661.33 445.37 L661.74 445.47 L662.16 445.58 L662.57 445.68 L662.99 445.78 L663.40 445.88 L663.82 445.99 L664.23 446.09 L664.65 446.19 L665.06 446.29 L665.48 446.40 L665.89 446.50 L666.31 446.60 L667.35 446.64 L668.39 446.68 L669.42 446.72 L670.46 446.76 L671.50 446.80 L672.54 446.84 L673.58 446.88 L674.61 446.92 L675.65 446.96 L676.69 447.00 L677.73 447.00 L678.77 447.01 L679.80 447.01 L680.84 447.02 L681.88 447.02 L682.92 447.03 L683.96 447.03 L684.99 447.04 L686.03 447.04 L687.07 447.04 L688.11 447.05 L689.15 447.05 L690.18 447.06 L691.22 447.06 L692.26 447.07 L693.30 447.07 L694.34 447.08 L695.37 447.08 L696.41 447.08 L697.45 447.09 L698.49 447.09 L699.50 447.10 L699.50 447.10" fill="none" stroke="#3030c0" stroke-width="0.85" stroke-linejoin="round"/>
<path d="M48.70 446.50 L49.74 446.50 L50.78 446.50 L51.81 446.50 L52.85 446.50 L53.89 446.50 L54.93 446.50 L55.97 446.50 L57.00 446.50 L58.04 446.50 L59.08 446.50 L60.12 446.50 L61.16 446.50 L62.19 446.50 L63.23 446.50 L64.27 446.50 L65.31 446.50 L66.35 446.50 L67.38 446.50 L68.42 446.50 L69.46 446.50 L70.50 446.50 L71.54 446.50 L72.57 446.50 L73.61 446.50 L74.65 446.50 L75.69 446.50 L76.73 446.50 L77.76 446.44 L78.08 446.33 L78.28 446.20 L78.39 446.11 L78.49 446.01 L78.59 445.89 L78.70 445.75 L78.80 445.60 L78.91 445.43 L79.01 445.25 L79.11 445.08 L79.22 444.90 L79.32 444.74 L79.42 444.59 L79.53 444.47 L79.63 444.38 L80.15 444.47 L80.26 444.59 L80.36 444.74 L80.46 444.90 L80.57 445.08 L80.67 445.25 L80.77 445.43 L80.88 445.60 L80.98 445.75 L81.09 445.89 L81.19 446.01 L81.29 446.11 L81.40 446.20 L81.60 446.33 L81.92 446.44 L82.95 446.50 L83.99 446.50 L85.03 446.50 L86.07 446.50 L87.11 446.50 L88.14 446.50 L89.18 446.50 L90.22 446.50 L91.26 446.50 L92.30 446.50 L93.33 446.50 L94.37 446.50 L95.41 446.50 L96.45 446.50 L97.49 446.50 L98.52 446.50 L99.56 446.50 L100.60 446.50 L101.64 446.50 L102.68 446.50 L103.71 446.50 L104.75 446.50 L105.79 446.50 L106.83 446.50 L107.87 446.50 L108.90 446.50 L109.94 446.50 L110.98 446.50 L112.02 446.50 L113.06 446.50 L114.09 446.50 L115.13 446.50 L116.17 446.50 L117.21 446.50 L118.25 446.50 L119.28 446.50 L120.32 446.50 L121.36 446.50 L122.40 446.50 L123.44 446.50 L124.47 446.50 L125.51 446.50 L126.55 446.50 L127.59 446.50 L128.63 446.50 L129.66 446.50 L130.60 446.39 L130.81 446.25 L131.01 446.10 L131.22 445.96 L131.43 445.82 L131.64 445.67 L132.05 445.59 L133.09 445.56 L134.13 445.54 L135.17 445.51 L136.20 445.48 L137.24 445.45 L138.28 445.42 L139.32 445.40 L140.36 445.37 L141.39 445.34 L142.43 445.31 L143.47 445.28 L144.51 445.26 L145.55 445.23 L146.58 445.20 L147.62 445.17 L148.66 445.14 L149.70 445.12 L150.74 445.09 L151.77 445.06 L152.81 445.03 L153.85 445.00 L154.89 444.98 L155.93 444.95 L156.96 444.92 L158.00 444.89 L159.04 444.85 L160.08 444.81 L161.12 444.77 L162.15 444.73 L163.19 444.69 L164.23 444.65 L165.27 444.61 L166.31 444.57 L167.34 444.53 L168.38 444.49 L169.42 444.45 L170.46 444.41 L171.50 444.37 L172.53 444.33 L173.57 444.29 L174.61 444.25 L175.65 444.21 L176.69 444.17 L177.72 444.13 L178.76 444.09 L179.80 444.05 L180.84 444.01 L181.88 444.00 L182.91 443.99 L183.95 443.98 L184.99 443.98 L186.03 443.97 L187.07 443.97 L188.10 443.96 L189.14 443.96 L190.18 443.95 L191.22 443.95 L192.26 443.94 L193.29 443.93 L194.33 443.93 L195.37 443.92 L196.41 443.92 L197.45 443.91 L198.48 443.91 L199.52 443.90 L200.56 443.90 L201.60 443.89 L202.64 443.89 L203.67 443.88 L204.71 443.87 L205.75 443.87 L206.79 443.86 L207.83 443.86 L208.86 443.85 L209.90 443.85 L210.94 443.84 L211.98 443.84 L213.02 443.83 L214.05 443.82 L215.09 443.82 L216.13 443.81 L217.17 443.81 L218.21 443.80 L219.24 443.80 L220.28 443.79 L221.32 443.79 L222.36 443.78 L223.40 443.77 L224.43 443.77 L225.47 443.76 L226.51 443.76 L227.55 443.75 L228.59 443.75 L229.62 443.74 L230.66 443.74 L231.70 443.73 L232.74 443.73 L233.78 443.72 L234.81 443.71 L235.85 443.71 L236.89 443.70 L237.93 443.70 L238.97 443.69 L240.00 443.69 L241.04 443.68 L242.08 443.68 L243.12 443.67 L244.16 443.66 L245.19 443.66 L246.23 443.65 L247.27 443.65 L248.31 443.64 L249.35 443.64 L250.38 443.63 L251.42 443.63 L252.46 443.62 L253.50 443.61 L254.54 443.61 L255.57 443.60 L256.61 443.60 L257.65 443.60 L258.69 443.60 L259.73 443.59 L260.76 443.59 L261.80 443.59 L262.84 443.59 L263.88 443.59 L264.92 443.59 L265.95 443.58 L266.99 443.58 L268.03 443.58 L269.07 443.58 L270.11 443.58 L271.14 443.58 L272.18 443.57 L273.22 443.57 L274.26 443.57 L275.30 443.57 L276.33 443.57 L277.37 443.56 L278.41 443.56 L279.45 443.55 L280.49 443.46 L280.90 443.36 L281.21 443.24 L281.42 443.14 L281.63 443.02 L281.83 442.89 L282.04 442.74 L282.25 442.59 L282.46 442.43 L282.67 442.29 L282.87 442.16 L283.08 442.06 L283.39 441.97 L284.01 442.05 L284.22 442.16 L284.43 442.28 L284.64 442.43 L284.84 442.58 L285.05 442.74 L285.26 442.88 L285.47 443.02 L285.68 443.13 L285.88 443.23 L286.09 443.32 L286.40 443.41 L286.92 443.49 L287.96 443.54 L289.00 443.54 L290.04 443.54 L291.07 443.54 L292.11 443.54 L293.15 443.54 L294.19 443.54 L295.23 443.53 L296.26 443.53 L297.30 443.53 L298.34 443.53 L299.38 443.53 L300.42 443.53 L301.45 443.52 L302.49 443.52 L303.53 443.52 L304.57 443.52 L305.61 443.52 L306.64 443.52 L307.68 443.51 L308.72 443.51 L309.76 443.51 L310.79 443.51 L311.83 443.51 L312.87 443.51 L313.91 443.50 L314.95 443.50 L315.99 443.50 L317.02 443.50 L318.06 443.50 L319.10 443.49 L320.14 443.49 L321.17 443.49 L322.21 443.49 L323.25 443.49 L324.29 443.49 L325.33 443.48 L326.37 443.48 L327.40 443.48 L328.44 443.48 L329.48 443.48 L330.52 443.48 L331.56 443.47 L332.59 443.47 L333.63 443.47 L334.67 443.47 L335.71 443.47 L336.74 443.47 L337.78 443.46 L338.82 443.46 L339.86 443.46 L340.90 443.46 L341.94 443.46 L342.97 443.45 L344.01 443.45 L345.05 443.45 L346.09 443.45 L347.12 443.45 L348.16 443.45 L349.20 443.44 L350.24 443.44 L351.28 443.44 L352.31 443.44 L353.35 443.44 L354.39 443.44 L355.43 443.43 L356.47 443.43 L357.50 443.43 L358.54 443.43 L359.58 443.43 L360.62 443.43 L361.66 443.42 L362.69 443.42 L363.73 443.42 L364.77 443.42 L365.81 443.42 L366.85 443.41 L367.88 443.41 L368.92 443.41 L369.96 443.41 L371.00 443.41 L372.04 443.41 L373.07 443.40 L374.11 443.40 L375.15 443.40 L375.98 443.50 L376.29 443.59 L376.60 443.69 L376.92 443.78 L377.23 443.88 L377.54 443.98 L377.85 444.07 L378.16 444.17 L379.20 444.19 L380.24 444.18 L381.28 444.17 L382.31 444.16 L383.35 444.15 L384.39 444.14 L385.43 444.13 L386.47 444.12 L387.50 444.11 L388.54 444.10 L389.27 444.01 L389.48 443.90 L389.58 443.80 L389.68 443.67 L389.79 443.50 L389.89 443.28 L389.99 443.00 L390.10 442.65 L390.20 442.25 L390.31 441.78 L390.41 441.27 L390.51 440.72 L390.62 440.16 L390.72 439.62 L390.82 439.11 L390.93 438.68 L391.03 438.35 L391.14 438.15 L391.45 438.35 L391.55 438.68 L391.66 439.11 L391.76 439.61 L391.86 440.15 L391.97 440.71 L392.07 441.25 L392.17 441.77 L392.28 442.23 L392.38 442.63 L392.49 442.97 L392.59 443.25 L392.69 443.47 L392.80 443.64 L392.90 443.77 L393.00 443.86 L393.21 443.97 L394.25 444.05 L395.29 444.04 L396.33 444.03 L397.36 444.02 L398.40 444.01 L399.44 443.99 L400.48 443.98 L401.52 443.96 L402.55 443.95 L403.59 443.93 L404.63 443.91 L405.67 443.90 L406.71 443.88 L406.91 443.69 L407.33 443.87 L407.54 444.00 L407.85 444.13 L407.95 443.96 L408.06 443.75 L408.16 443.88 L408.37 443.96 L408.89 443.87 L408.99 443.64 L409.40 443.73 L409.61 443.88 L409.82 443.99 L410.44 443.89 L410.65 443.62 L411.07 443.82 L411.27 443.91 L411.58 443.73 L412.00 443.61 L412.10 443.81 L412.42 443.66 L412.52 443.55 L412.62 443.68 L412.73 443.39 L413.25 443.20 L413.35 442.89 L413.45 442.63 L413.56 442.25 L413.66 441.94 L413.76 441.77 L413.87 441.53 L414.08 441.36 L414.18 441.17 L414.28 440.86 L414.39 440.59 L414.49 440.33 L414.80 440.59 L414.91 440.76 L415.11 441.18 L415.22 441.46 L415.32 441.66 L415.43 441.85 L415.53 442.23 L415.63 442.64 L415.74 442.86 L415.84 442.97 L415.94 443.22 L416.05 443.37 L416.15 443.57 L416.46 443.86 L416.57 443.77 L416.77 443.69 L416.88 443.83 L416.98 443.74 L417.09 443.59 L417.29 443.68 L417.92 443.78 L418.02 443.60 L418.44 443.70 L418.54 443.52 L418.64 443.61 L419.06 443.51 L419.16 443.65 L419.37 443.81 L419.89 443.69 L419.99 443.55 L420.10 443.36 L420.30 443.44 L420.51 443.56 L420.72 443.66 L420.93 443.78 L421.24 443.67 L421.55 443.49 L421.65 443.62 L421.76 443.45 L421.86 443.54 L422.07 443.67 L422.17 443.82 L422.38 443.92 L422.69 443.80 L422.80 443.59 L423.00 443.44 L423.11 443.34 L423.21 443.56 L423.52 443.67 L423.63 443.90 L423.73 444.06 L423.83 443.73 L423.94 443.85 L424.04 443.95 L424.25 443.82 L424.35 443.58 L424.97 443.68 L425.29 443.87 L425.39 443.63 L425.60 443.55 L425.70 443.64 L425.91 443.52 L426.12 443.67 L426.32 443.57 L426.64 443.68 L427.05 443.58 L427.36 443.49 L427.67 443.76 L427.88 443.64 L428.09 443.75 L428.30 443.53 L428.61 443.31 L428.82 443.13 L429.13 443.40 L429.33 443.27 L429.54 443.45 L429.75 443.15 L430.06 443.24 L430.27 443.03 L430.37 443.33 L430.48 443.48 L430.68 443.30 L430.89 443.52 L431.00 443.23 L431.41 443.05 L431.51 442.71 L431.62 442.62 L431.72 442.09 L431.83 441.34 L431.93 440.64 L432.03 439.74 L432.14 438.88 L432.24 437.82 L432.34 436.90 L432.45 435.81 L432.55 434.65 L432.66 433.63 L432.76 432.59 L432.86 431.73 L432.97 430.63 L433.07 430.20 L433.18 429.92 L433.38 430.15 L433.49 430.38 L433.59 431.23 L433.69 431.90 L433.80 432.81 L433.90 433.56 L434.01 434.61 L434.11 435.72 L434.21 436.79 L434.32 437.83 L434.42 438.88 L434.52 439.76 L434.63 440.37 L434.73 440.94 L434.84 441.48 L434.94 441.93 L435.04 442.24 L435.15 442.63 L435.25 442.76 L435.35 442.93 L435.46 442.80 L435.56 443.01 L435.67 442.87 L435.87 443.09 L435.98 443.20 L436.19 443.35 L436.29 443.53 L436.39 443.66 L436.60 443.56 L436.70 443.64 L436.91 443.47 L437.02 443.33 L437.22 443.24 L437.64 443.32 L437.95 443.20 L438.26 443.34 L438.37 443.26 L438.57 443.47 L438.88 443.33 L438.99 443.48 L439.61 443.39 L439.82 443.26 L439.92 443.36 L440.44 443.53 L440.65 443.40 L440.86 443.53 L441.06 443.39 L441.79 443.56 L442.00 443.41 L442.41 443.20 L442.52 443.01 L442.62 443.11 L442.93 443.22 L443.04 443.10 L443.14 443.31 L443.35 443.16 L443.45 443.30 L443.56 443.14 L443.66 443.27 L443.76 443.09 L443.87 443.22 L444.18 443.49 L444.28 443.59 L444.39 443.70 L444.70 443.58 L444.90 443.44 L445.01 443.27 L445.63 443.49 L445.94 443.22 L446.25 443.01 L446.36 442.74 L446.46 442.53 L446.67 442.38 L446.77 442.15 L446.88 441.86 L446.98 441.49 L447.08 441.19 L447.19 440.50 L447.29 439.89 L447.40 439.21 L447.50 438.66 L447.60 438.01 L447.71 437.42 L447.81 436.86 L447.91 436.42 L448.02 435.97 L448.12 435.75 L448.23 435.56 L448.33 435.40 L448.43 435.49 L448.54 435.62 L448.64 436.03 L448.75 436.36 L448.85 437.01 L448.95 437.63 L449.06 438.35 L449.16 438.97 L449.26 439.53 L449.37 440.16 L449.47 440.75 L449.58 441.22 L449.68 441.57 L449.78 442.13 L449.89 442.46 L449.99 442.69 L450.09 442.81 L450.20 443.04 L450.30 443.34 L450.41 443.23 L450.61 443.38 L450.82 443.23 L451.03 443.36 L451.13 443.46 L451.44 443.60 L451.55 443.49 L451.76 443.37 L451.86 443.27 L452.07 443.08 L452.17 442.92 L452.27 442.80 L452.38 442.91 L452.48 443.02 L452.69 443.18 L452.79 443.35 L453.00 443.43 L453.10 443.33 L453.31 443.22 L453.73 443.09 L453.83 442.95 L454.04 443.05 L454.25 442.83 L454.35 443.14 L454.45 443.31 L454.56 443.49 L454.87 443.69 L455.28 443.38 L455.39 443.15 L455.49 442.98 L455.60 442.82 L455.80 442.67 L455.91 442.81 L456.01 442.92 L456.12 443.06 L456.32 443.15 L456.53 443.26 L456.63 443.39 L456.74 443.22 L456.95 443.35 L457.05 443.47 L457.36 443.55 L457.67 443.29 L457.78 443.13 L457.88 442.92 L457.98 443.03 L458.29 443.23 L458.50 443.40 L458.71 443.49 L458.81 443.35 L458.92 443.13 L459.23 442.91 L459.54 443.04 L459.64 443.17 L459.85 443.47 L459.96 443.29 L460.37 443.05 L460.58 443.14 L460.99 443.05 L461.10 442.79 L461.20 442.67 L461.31 442.29 L461.41 441.81 L461.51 441.54 L461.62 441.18 L461.72 440.73 L461.82 440.13 L461.93 439.63 L462.03 439.17 L462.14 438.54 L462.24 438.04 L462.34 437.70 L462.45 437.45 L462.55 437.34 L462.76 437.56 L462.86 437.82 L462.97 438.19 L463.07 438.74 L463.17 439.45 L463.28 440.06 L463.38 440.64 L463.48 441.17 L463.59 441.50 L463.69 441.83 L463.80 442.09 L463.90 442.33 L464.00 442.46 L464.21 442.75 L464.32 443.03 L464.52 443.16 L464.73 443.29 L464.94 443.20 L465.35 443.33 L465.46 443.46 L465.56 443.37 L465.66 443.22 L465.98 443.43 L466.08 443.25 L466.18 443.16 L466.60 442.87 L467.12 442.96 L467.33 443.12 L467.43 443.26 L467.53 443.38 L467.64 443.17 L467.95 443.34 L468.47 443.21 L468.57 442.99 L468.99 443.08 L469.51 443.25 L469.61 443.16 L470.13 443.05 L470.23 443.16 L470.44 443.07 L470.65 443.18 L470.75 443.08 L470.85 442.99 L470.96 443.23 L471.06 443.13 L471.27 442.98 L471.37 443.07 L471.48 442.97 L471.58 442.72 L472.10 442.82 L472.31 442.99 L472.62 443.08 L472.72 442.90 L472.93 442.78 L473.03 442.88 L473.14 442.99 L473.24 442.80 L473.35 442.96 L473.45 443.07 L473.55 443.18 L473.76 443.04 L473.97 443.12 L474.07 443.27 L474.18 443.39 L474.28 443.24 L474.70 443.06 L474.80 442.79 L474.90 442.92 L475.21 443.03 L475.42 442.93 L475.53 442.84 L475.63 442.69 L475.84 442.47 L475.94 442.29 L476.04 442.20 L476.15 442.11 L476.36 441.89 L476.46 441.77 L476.56 441.51 L476.77 441.38 L476.98 441.23 L477.19 441.42 L477.39 441.63 L477.60 441.83 L477.71 442.05 L477.81 442.14 L478.12 442.35 L478.54 442.50 L478.64 442.59 L478.85 442.89 L479.05 443.06 L479.16 442.78 L479.57 442.56 L479.78 442.77 L480.20 442.99 L480.51 443.09 L480.72 442.96 L480.82 442.80 L480.92 442.96 L481.13 443.05 L481.23 442.97 L481.55 442.75 L481.65 442.59 L481.86 442.72 L482.06 442.58 L482.17 442.70 L482.27 442.86 L482.48 442.68 L482.69 442.79 L482.79 442.59 L483.31 442.68 L483.41 442.93 L483.83 442.82 L483.93 442.65 L484.24 442.82 L484.35 442.97 L484.45 442.88 L484.56 443.03 L484.76 443.12 L484.87 442.97 L484.97 442.80 L485.08 442.97 L485.18 442.82 L485.28 442.70 L485.49 442.58 L485.70 442.77 L485.80 442.85 L485.91 442.95 L486.01 442.80 L486.11 442.94 L486.32 442.79 L486.74 442.62 L486.94 442.71 L487.15 442.51 L487.57 442.29 L487.77 442.40 L488.09 442.51 L488.19 442.64 L488.92 442.74 L489.02 442.56 L489.12 442.64 L489.33 442.55 L489.43 442.47 L489.54 442.57 L489.64 442.65 L489.75 442.76 L489.85 442.87 L490.06 442.77 L490.16 442.64 L490.27 442.48 L490.37 442.32 L490.47 442.18 L490.68 442.06 L490.78 441.88 L490.89 442.04 L490.99 441.95 L491.10 441.81 L491.30 441.60 L491.41 441.82 L491.51 441.51 L492.03 441.20 L492.13 441.31 L492.34 441.22 L492.44 441.42 L492.65 441.28 L492.76 441.15 L493.07 441.01 L493.17 441.19 L493.28 441.50 L493.38 441.73 L493.48 441.86 L493.59 442.00 L493.69 442.16 L493.79 442.25 L493.90 442.38 L494.21 442.20 L494.62 442.35 L494.73 442.55 L494.83 442.77 L495.14 442.66 L495.87 442.38 L496.08 442.24 L496.29 442.41 L496.49 442.60 L496.80 442.70 L496.91 442.52 L497.01 442.63 L497.43 442.54 L497.53 442.73 L497.63 442.54 L497.84 442.45 L498.05 442.59 L498.15 442.45 L498.26 442.68 L498.47 442.82 L498.67 442.67 L498.78 442.59 L498.88 442.33 L499.30 442.45 L499.61 442.58 L499.81 442.45 L500.33 442.53 L500.85 442.62 L500.96 442.30 L501.27 442.47 L501.37 442.38 L501.58 442.53 L501.89 442.42 L502.10 442.33 L502.20 442.41 L502.51 442.54 L502.62 442.70 L502.82 442.84 L503.14 442.71 L503.24 442.61 L503.34 442.86 L503.45 442.69 L503.66 442.80 L503.76 442.71 L503.97 442.46 L504.07 442.34 L504.28 442.05 L504.59 442.14 L504.69 442.28 L504.90 442.36 L505.00 442.54 L505.21 442.35 L505.32 442.27 L505.63 442.09 L505.84 442.24 L505.94 442.16 L506.04 442.01 L506.25 442.22 L506.35 442.37 L506.46 442.21 L506.56 442.44 L506.67 442.53 L506.77 442.32 L507.08 442.46 L507.18 442.33 L507.29 442.45 L507.50 442.25 L507.70 442.14 L507.91 442.26 L508.01 442.48 L508.12 442.91 L508.33 443.05 L508.43 442.93 L508.53 442.78 L508.74 442.49 L508.95 442.23 L509.05 442.36 L509.26 442.17 L509.36 442.08 L509.47 442.18 L509.57 442.09 L509.68 441.93 L510.19 442.06 L510.40 442.25 L510.51 442.48 L510.61 442.64 L510.71 442.50 L511.03 442.32 L511.13 442.22 L511.23 442.06 L511.44 442.20 L511.65 442.34 L511.86 442.49 L511.96 442.59 L512.17 442.73 L512.27 442.62 L512.58 442.54 L512.79 442.40 L513.10 442.32 L513.72 442.44 L513.93 442.35 L514.04 442.21 L514.24 442.11 L514.55 442.01 L514.76 442.13 L514.87 442.03 L515.18 442.14 L515.49 442.30 L515.70 442.12 L515.80 442.02 L516.01 442.21 L516.11 442.01 L516.42 442.20 L516.53 442.02 L516.63 441.88 L516.73 441.96 L516.84 441.81 L517.15 441.98 L517.25 442.18 L517.36 442.00 L517.46 442.14 L517.56 442.22 L517.88 442.03 L518.19 442.17 L518.40 442.09 L518.81 441.87 L519.02 442.04 L519.54 441.92 L519.74 442.01 L519.85 442.18 L519.95 442.05 L520.06 442.16 L520.37 442.27 L520.47 442.17 L520.57 442.29 L520.78 442.46 L520.89 442.26 L520.99 442.05 L521.09 442.21 L521.20 442.08 L521.61 442.31 L521.92 442.21 L522.34 442.09 L522.65 441.91 L522.75 442.04 L522.96 441.94 L523.27 442.15 L523.38 442.02 L523.59 441.81 L523.79 441.60 L523.90 441.48 L524.21 441.68 L524.31 441.84 L524.42 442.04 L524.52 442.17 L524.73 442.08 L525.04 441.96 L525.14 441.85 L525.35 442.01 L525.66 441.80 L525.87 441.96 L526.18 441.84 L526.28 442.03 L526.49 441.80 L526.70 441.88 L526.80 441.76 L527.01 441.65 L527.11 441.93 L527.43 442.13 L527.63 442.35 L527.74 442.04 L527.94 442.15 L528.05 441.99 L528.15 441.83 L528.26 441.59 L528.46 441.77 L528.57 441.65 L528.77 441.90 L529.81 441.90 L530.85 441.90 L531.89 441.90 L532.93 441.90 L533.97 441.90 L535.00 441.90 L536.04 441.90 L537.08 441.90 L538.12 441.90 L539.16 441.90 L540.19 441.90 L541.23 441.91 L542.27 441.99 L542.68 442.09 L542.89 442.17 L543.10 442.28 L543.31 442.41 L543.51 442.57 L543.62 442.65 L543.72 442.75 L543.83 442.85 L543.93 442.96 L544.03 443.08 L544.14 443.19 L544.24 443.31 L544.35 443.44 L544.45 443.56 L544.55 443.68 L544.66 443.80 L544.76 443.91 L544.86 444.01 L544.97 444.11 L545.07 444.19 L545.28 444.33 L545.59 444.43 L546.01 444.34 L546.21 444.20 L546.32 444.12 L546.42 444.03 L546.52 443.92 L546.63 443.81 L546.73 443.70 L546.84 443.58 L546.94 443.46 L547.04 443.34 L547.15 443.23 L547.25 443.11 L547.36 443.00 L547.46 442.90 L547.56 442.81 L547.67 442.72 L547.87 442.57 L548.08 442.46 L548.39 442.37 L549.02 442.49 L549.22 442.62 L549.33 442.70 L549.43 442.80 L549.53 442.91 L549.64 443.02 L549.74 443.15 L549.85 443.28 L549.95 443.43 L550.05 443.58 L550.16 443.73 L550.26 443.89 L550.37 444.05 L550.47 444.21 L550.57 444.37 L550.68 444.52 L550.78 444.66 L550.88 444.79 L550.99 444.91 L551.09 445.02 L551.20 445.11 L551.40 445.23 L552.03 445.11 L552.13 445.03 L552.23 444.92 L552.34 444.80 L552.44 444.67 L552.55 444.53 L552.65 444.38 L552.75 444.23 L552.86 444.07 L552.96 443.91 L553.06 443.75 L553.17 443.60 L553.27 443.45 L553.38 443.31 L553.48 443.17 L553.58 443.04 L553.69 442.93 L553.79 442.82 L553.89 442.72 L554.00 442.64 L554.21 442.50 L554.41 442.41 L555.35 442.53 L555.56 442.68 L555.66 442.76 L555.76 442.86 L555.87 442.97 L555.97 443.09 L556.07 443.21 L556.18 443.34 L556.28 443.48 L556.39 443.62 L556.49 443.76 L556.59 443.91 L556.70 444.05 L556.80 444.20 L556.90 444.33 L557.01 444.46 L557.11 444.58 L557.22 444.69 L557.32 444.79 L557.42 444.87 L557.63 444.98 L558.25 444.88 L558.46 444.70 L558.57 444.60 L558.67 444.48 L558.77 444.35 L558.88 444.21 L558.98 444.07 L559.08 443.93 L559.19 443.79 L559.29 443.65 L559.40 443.51 L559.50 443.38 L559.60 443.25 L559.71 443.13 L559.81 443.02 L559.91 442.92 L560.02 442.83 L560.23 442.69 L560.43 442.59 L561.26 442.67 L561.47 442.81 L561.58 442.89 L561.68 442.98 L561.78 443.08 L561.89 443.18 L561.99 443.29 L562.09 443.41 L562.20 443.52 L562.30 443.64 L562.41 443.76 L562.51 443.88 L562.61 443.99 L562.72 444.10 L562.82 444.20 L562.93 444.29 L563.03 444.37 L563.24 444.50 L564.07 444.38 L564.27 444.22 L564.38 444.12 L564.48 444.02 L564.59 443.91 L564.69 443.80 L564.79 443.68 L564.90 443.57 L565.00 443.46 L565.11 443.35 L565.21 443.25 L565.31 443.15 L565.42 443.06 L565.62 442.91 L565.83 442.80 L566.14 442.72 L566.77 442.84 L566.97 442.94 L567.18 443.06 L567.39 443.18 L567.60 443.31 L567.80 443.42 L568.01 443.52 L568.32 443.60 L568.95 443.52 L569.15 443.42 L569.36 443.30 L569.57 443.17 L569.78 443.03 L569.98 442.88 L570.19 442.75 L570.40 442.62 L570.61 442.51 L570.81 442.42 L571.13 442.31 L571.54 442.22 L572.58 442.15 L573.62 442.15 L574.65 442.15 L575.59 442.32 L575.69 442.18 L575.90 442.02 L576.21 441.91 L576.42 442.02 L576.63 442.12 L576.83 442.20 L577.04 442.12 L577.56 442.02 L578.29 442.12 L578.60 442.23 L578.70 442.12 L578.81 442.22 L579.12 442.06 L579.33 442.20 L579.43 442.09 L579.53 442.01 L579.64 442.15 L579.74 442.25 L580.05 442.17 L580.47 442.06 L580.57 441.97 L580.68 442.21 L580.88 442.34 L581.19 442.52 L581.30 442.40 L581.71 442.27 L582.13 442.16 L582.34 442.37 L582.85 442.47 L582.96 442.31 L583.17 442.23 L584.20 442.26 L584.62 442.40 L585.35 442.32 L585.55 442.40 L585.66 442.31 L585.97 442.44 L586.80 442.34 L587.32 442.47 L587.84 442.32 L588.36 442.41 L588.46 442.50 L588.67 442.36 L589.71 442.33 L589.91 442.22 L590.43 442.32 L590.54 442.41 L591.57 442.35 L591.89 442.45 L592.72 442.37 L593.75 442.47 L594.48 442.37 L594.58 442.48 L595.62 442.58 L595.73 442.66 L596.76 442.59 L596.97 442.48 L597.28 442.60 L597.49 442.74 L598.11 442.64 L598.32 442.51 L599.15 442.64 L599.46 442.75 L599.77 442.64 L600.71 442.54 L601.23 442.69 L601.44 442.80 L601.75 442.67 L602.78 442.65 L602.99 442.85 L603.61 442.71 L603.82 442.84 L604.03 442.94 L604.13 442.85 L604.34 442.75 L604.65 442.65 L604.76 442.74 L604.96 442.87 L605.28 442.99 L605.48 442.87 L605.90 442.74 L606.11 442.82 L606.73 442.92 L607.14 442.80 L608.18 442.98 L608.29 443.08 L608.60 443.17 L608.70 443.08 L608.91 442.96 L609.32 443.08 L609.64 442.95 L609.95 442.87 L610.15 442.97 L610.78 442.85 L611.19 442.98 L611.30 443.19 L611.61 443.08 L611.92 442.89 L612.13 443.05 L612.23 443.15 L612.85 443.04 L613.16 443.15 L613.37 443.07 L613.48 443.19 L613.68 443.09 L614.31 443.23 L615.14 443.15 L615.45 443.26 L616.38 443.17 L616.90 443.04 L617.01 443.15 L617.52 443.26 L618.56 443.32 L619.08 443.22 L620.12 443.14 L620.43 443.25 L620.64 443.41 L620.85 443.55 L621.36 443.42 L622.40 443.42 L622.61 443.52 L623.65 443.40 L624.06 443.49 L624.17 443.58 L625.00 443.49 L625.21 443.60 L626.04 443.68 L626.66 443.54 L627.07 443.44 L627.18 443.56 L628.22 443.50 L628.63 443.61 L629.05 443.69 L629.46 443.80 L629.77 443.90 L630.08 443.80 L630.29 443.70 L630.50 443.56 L631.02 443.67 L631.12 443.82 L632.16 443.73 L632.37 443.82 L632.68 443.93 L633.30 443.85 L634.24 443.74 L634.55 443.85 L634.86 443.95 L635.48 444.08 L635.69 444.17 L636.10 444.01 L636.31 443.89 L636.52 443.79 L636.93 443.88 L637.14 444.01 L637.45 444.12 L637.87 444.02 L638.18 443.91 L638.60 444.03 L639.11 444.12 L639.22 444.02 L639.43 444.13 L639.94 444.22 L640.15 444.33 L640.26 444.22 L640.46 444.32 L640.88 444.49 L641.19 444.36 L641.40 444.25 L641.50 444.16 L642.33 444.01 L642.54 443.88 L643.58 443.99 L643.99 444.11 L644.20 443.95 L644.30 443.84 L644.51 443.72 L644.62 443.57 L644.93 443.49 L645.24 443.37 L645.55 443.20 L645.76 443.06 L645.97 442.90 L646.07 442.81 L646.17 442.72 L646.28 442.63 L646.38 442.53 L646.48 442.44 L646.59 442.34 L646.69 442.24 L646.80 442.14 L646.90 442.04 L647.00 441.94 L647.11 441.84 L647.21 441.74 L647.31 441.65 L647.42 441.55 L647.52 441.46 L647.63 441.38 L647.73 441.30 L647.94 441.15 L648.15 441.04 L648.35 440.95 L649.39 441.01 L649.60 441.11 L649.81 441.23 L650.01 441.37 L650.22 441.52 L650.43 441.68 L650.64 441.84 L650.84 441.99 L651.05 442.14 L651.26 442.28 L651.47 442.40 L651.67 442.51 L651.88 442.61 L652.09 442.69 L652.40 442.78 L652.92 442.88 L653.65 442.96 L654.37 443.05 L655.41 443.13 L656.45 443.19 L657.49 443.26 L658.52 443.32 L659.56 443.38 L660.19 443.49 L660.60 443.59 L661.02 443.69 L661.43 443.79 L661.85 443.89 L662.26 443.99 L662.68 444.09 L663.09 444.19 L663.51 444.29 L663.92 444.39 L664.34 444.49 L664.75 444.59 L665.17 444.69 L665.58 444.80 L666.00 444.90 L666.41 445.00 L666.83 445.10 L667.24 445.20 L667.66 445.30 L668.07 445.40 L668.49 445.50 L668.91 445.60 L669.53 445.69 L670.15 445.78 L670.77 445.87 L671.40 445.96 L672.02 446.05 L672.64 446.13 L673.26 446.22 L673.89 446.31 L674.51 446.40 L675.13 446.49 L675.76 446.58 L676.38 446.67 L677.00 446.76 L677.62 446.85 L678.66 446.91 L679.70 446.92 L680.74 446.92 L681.78 446.93 L682.81 446.94 L683.85 446.95 L684.89 446.96 L685.93 446.97 L686.97 446.98 L688.00 446.99 L689.04 447.00 L690.08 447.01 L691.12 447.02 L692.16 447.03 L693.19 447.04 L694.23 447.05 L695.27 447.06 L696.31 447.07 L697.35 447.08 L698.38 447.08 L699.42 447.09 L699.50 447.10" fill="none" stroke="#e040e0" stroke-width="0.9" stroke-linejoin="round" stroke-opacity="0.8"/>
<path d="M42.3 307.7H44.7V305.8L48.5 309.1L44.7 312.4V310.5H42.3Z" fill="#0000a0"/>
<!-- annotations -->
<text x="248.1" y="346" font-size="17.8" fill="#000000" textLength="116.4" lengthAdjust="spacingAndGlyphs">Miconazole IS</text>
<line x1="246" y1="351.6" x2="235.2" y2="371" stroke="#000" stroke-width="1.1"/>
<path d="M233.4 374.3L234.0 367.6L239.3 370.5Z" fill="#000"/>
<text x="283" y="480.5" font-size="19.5" fill="#000000" textLength="176.7" lengthAdjust="spacingAndGlyphs">Retention time (min)</text>
<text transform="translate(13.8 286.4) rotate(-90)" font-size="18.5" fill="#000000" textLength="72" lengthAdjust="spacingAndGlyphs">Intensity</text>
</svg>
</body>
</html>
